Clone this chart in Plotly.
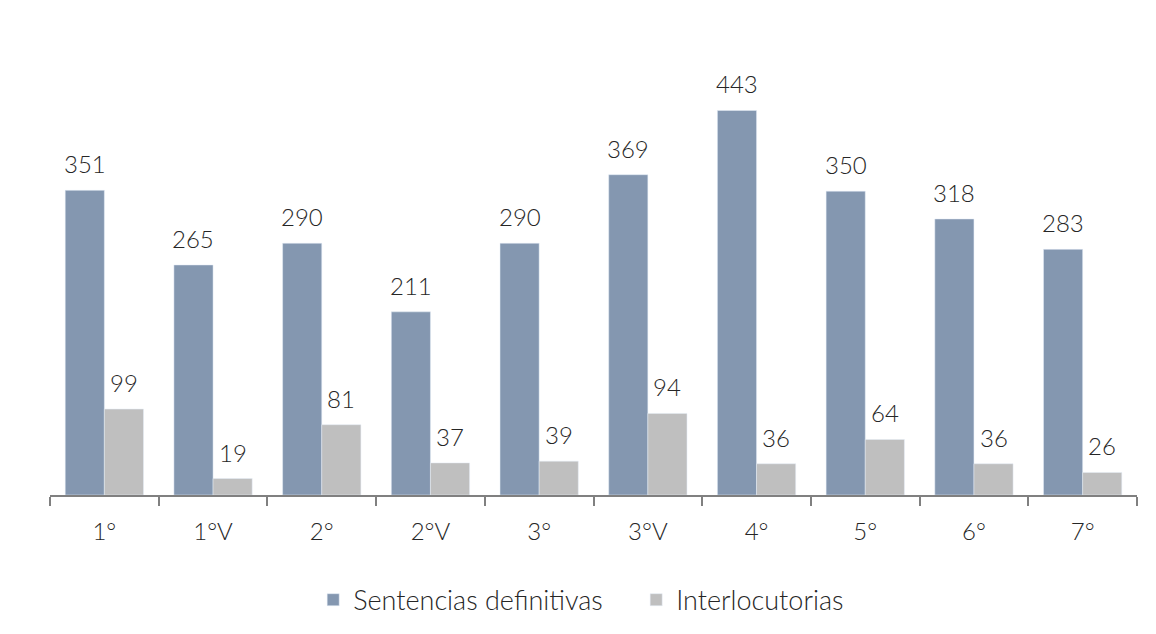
import plotly.graph_objects as go

categories = ["1°", "1°V", "2°", "2°V", "3°", "3°V", "4°", "5°", "6°", "7°"]
sentencias = [351, 265, 290, 211, 290, 369, 443, 350, 318, 283]
interlocutorias = [99, 19, 81, 37, 39, 94, 36, 64, 36, 26]

font_family = "Lato, 'Open Sans', sans-serif"
txt_color = "#262626"

fig = go.Figure()
fig.add_trace(go.Bar(
    x=categories, y=sentencias, name="Sentencias definitivas",
    marker=dict(color="#8497B0"), offsetgroup="a",
))
fig.add_trace(go.Bar(
    x=categories, y=interlocutorias, name="Interlocutorias",
    marker=dict(color="#BFBFBF"), offsetgroup="b",
))

# data labels placed through the axes (category + value), shifted above bars
group_w = 1 - 0.28
for vals, side in ((sentencias, -1), (interlocutorias, 1)):
    for i, v in enumerate(vals):
        fig.add_annotation(
            x=i + side * group_w / 4, y=v, xref="x", yref="y",
            text=str(v), showarrow=False, yanchor="bottom", yshift=10,
            font=dict(size=24, color=txt_color, family=font_family, weight=300),
        )

fig.update_layout(
    width=1156, height=634,
    barmode="group", bargap=0.28, bargroupgap=0,
    plot_bgcolor="white", paper_bgcolor="white",
    margin=dict(l=42, r=27, t=52.5, b=147, autoexpand=False),
    font=dict(family=font_family, color=txt_color, size=22, weight=300),
    showlegend=True,
    legend=dict(orientation="h", x=0.264, xanchor="left", xref="container",
                y=0.066, yanchor="middle", yref="container",
                font=dict(size=27, color=txt_color, weight=300), traceorder="normal",
                itemwidth=30, entrywidth=278, entrywidthmode="pixels"),
)
fig.update_xaxes(
    type="category", automargin=False,
    showline=True, linecolor="#808080", linewidth=1.5,
    ticks="outside", tickson="boundaries", ticklen=9, tickcolor="#808080", tickwidth=1.5,
    ticklabelstandoff=14,
    tickfont=dict(size=24, color=txt_color, weight=300),
)
fig.update_yaxes(range=[0, 500], visible=False, showgrid=False)

fig.write_html("out.html")
